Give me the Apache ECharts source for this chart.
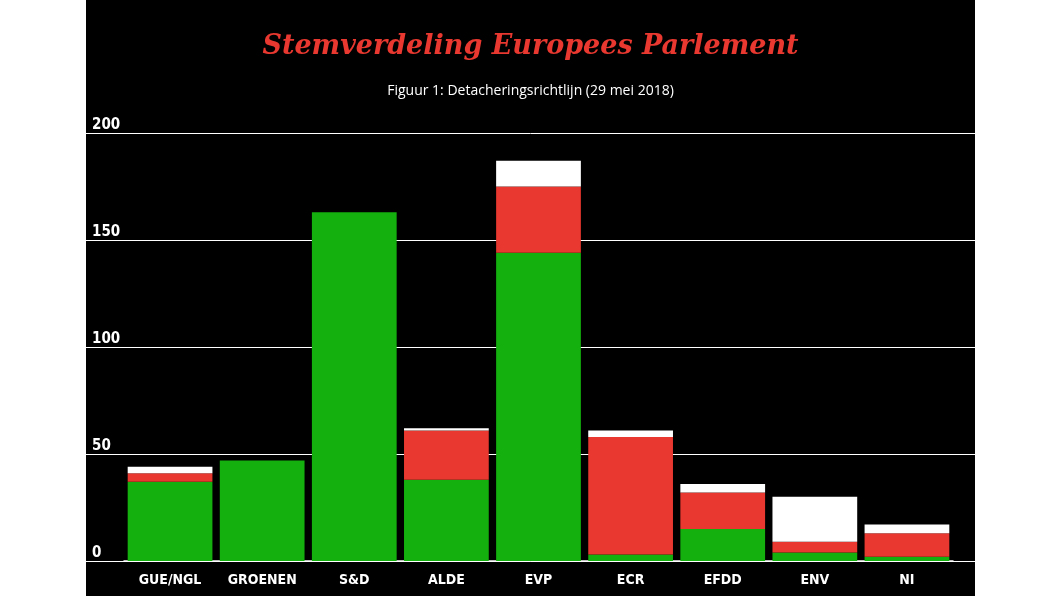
<!DOCTYPE html>
<html><head><meta charset="utf-8">
<script src="https://cdn.jsdelivr.net/npm/echarts@6/dist/echarts.min.js"></script>
<style>body{margin:0;background:#fff;}#c{position:absolute;left:86px;top:0;width:889px;height:596px;background:#000;}</style>
</head><body><div id="c"></div>
<script>
const categories=['GUE/NGL','GROENEN','S&D','ALDE','EVP','ECR','EFDD','ENV','NI'];
const voorValues=[37,47,163,38,144,3,15,4,2];
const tegenValues=[4,0,0,23,31,55,17,5,11];
const onthoudingValues=[3,0,0,1,12,3,4,21,4];
const yTicks=[0,50,100,150,200];
const chart=echarts.init(document.getElementById('c'));
const f='"DejaVu Sans Condensed","DejaVu Sans"';
chart.setOption({
  backgroundColor:'#000',
  title:[{text:'Stemverdeling Europees Parlement',left:'center',top:28,textStyle:{color:'#e8382f',fontFamily:'"DejaVu Serif"',fontStyle:'italic',fontWeight:'bold',fontSize:27}},
         {text:'Figuur 1: Detacheringsrichtlijn (29 mei 2018)',left:'center',top:79,textStyle:{color:'#fff',fontFamily:'"Open Sans"',fontWeight:'normal',fontSize:14}}],
  grid:[{left:0,right:0,top:133,bottom:35},{left:38,right:22,top:133,bottom:35}],
  xAxis:[{gridIndex:0,type:'value',show:false,min:0,max:1},
         {gridIndex:1,type:'category',data:categories,axisLine:{lineStyle:{color:'#fff',width:1.5}},axisTick:{show:false},
          axisLabel:{color:'#fff',fontFamily:f,fontWeight:'bold',fontSize:14,margin:12}}],
  yAxis:[{gridIndex:0,type:'value',min:0,max:200,interval:50,axisLine:{show:false},axisTick:{show:false},
          splitLine:{lineStyle:{color:'#fff',width:1}},
          axisLabel:{inside:true,color:'#fff',fontFamily:f,fontWeight:'bold',fontSize:15,verticalAlign:'bottom',margin:6,
            formatter:v=>yTicks.includes(v)?String(v):''}},
         {gridIndex:1,type:'value',min:0,max:200,interval:50,show:false}],
  series:[
    {type:'bar',xAxisIndex:1,yAxisIndex:1,stack:'s',data:voorValues,itemStyle:{color:'#14b00e'},barCategoryGap:'8%'},
    {type:'bar',xAxisIndex:1,yAxisIndex:1,stack:'s',data:tegenValues,itemStyle:{color:'#e8382f'}},
    {type:'bar',xAxisIndex:1,yAxisIndex:1,stack:'s',data:onthoudingValues,itemStyle:{color:'#fff'}}
  ]
});
</script></body></html>
